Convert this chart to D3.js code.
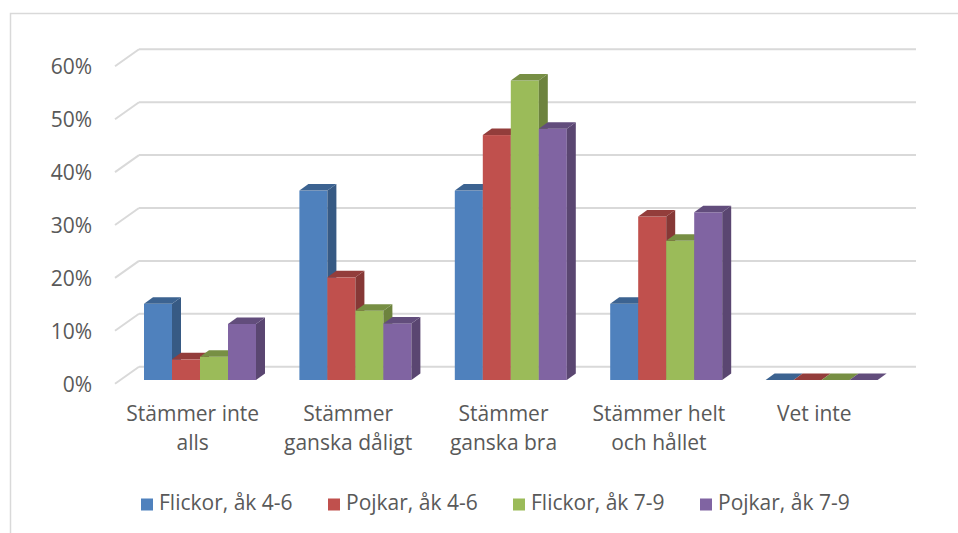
<!DOCTYPE html>
<html>
<head>
<meta charset="utf-8">
<script src="https://cdn.jsdelivr.net/npm/d3@7"></script>
<style>
  body { margin: 0; background: #fff; }
  text { font-family: "Open Sans", "Noto Sans", sans-serif; fill: #595959; }
</style>
</head>
<body>
<div id="chart"></div>
<script>
// chart data
var categories = [
  ["Stämmer inte", "alls"],
  ["Stämmer", "ganska dåligt"],
  ["Stämmer", "ganska bra"],
  ["Stämmer helt", "och hållet"],
  ["Vet inte"]
];
var seriesNames = ["Flickor, åk 4-6", "Pojkar, åk 4-6", "Flickor, åk 7-9", "Pojkar, åk 7-9"];
var seriesColors = ["#4f81bd", "#c0504d", "#9bbb59", "#8064a2"];
var flickor46 = [0.144, 0.358, 0.358, 0.144, 0];
var pojkar46  = [0.039, 0.194, 0.463, 0.309, 0];
var flickor79 = [0.044, 0.131, 0.566, 0.263, 0];
var pojkar79  = [0.106, 0.107, 0.475, 0.317, 0];
var values = [flickor46, pojkar46, flickor79, pojkar79];
var yTicks = [0, 0.1, 0.2, 0.3, 0.4, 0.5, 0.6];

// canvas size
var width = 958, height = 533;

var svg = d3.select('#chart').append('svg')
  .attr('width', width)
  .attr('height', height);

// outer frame
svg.append('rect')
  .attr('x', 10.5).attr('y', 13.5)
  .attr('width', 1000).attr('height', 600)
  .attr('fill', 'none')
  .attr('stroke', '#d9d9d9')
  .attr('stroke-width', 1.5);

// depth of the floor (front -> back) and of the bars
var wallDx = 24, wallDy = 17;
var barDx = 9, barDy = 6.5;

// value scale on the plane of the bar fronts
var y = d3.scaleLinear().domain([0, 0.6]).range([380, 62.6]);
// back wall is a bit higher
var yBack = function(v) { return y(v) - 13.3; };
var yFront = function(v) { return yBack(v) + wallDy; };

// category bands on the front floor edge
var frontLeft = 115, frontRight = 892;
var x0 = d3.scaleBand().domain(d3.range(categories.length)).range([frontLeft, frontRight]);
// bars stand a bit behind the front edge
var barShift = 4.5;
var x1 = d3.scaleBand().domain(d3.range(seriesNames.length)).range([24.5, 136.5]);

// gridlines: back wall + side wall diagonal
var grid = svg.append('g');
yTicks.forEach(function(v) {
  grid.append('line')
    .attr('x1', frontLeft + wallDx).attr('x2', frontRight + wallDx)
    .attr('y1', yBack(v)).attr('y2', yBack(v))
    .attr('stroke', '#d9d9d9').attr('stroke-width', 2);
  grid.append('line')
    .attr('x1', frontLeft).attr('y1', yFront(v))
    .attr('x2', frontLeft + wallDx).attr('y2', yBack(v))
    .attr('stroke', '#d9d9d9').attr('stroke-width', 2);
});

// y tick labels
svg.append('g').selectAll('text').data(yTicks).enter().append('text')
  .attr('x', 92)
  .attr('y', function(d) { return yFront(d) + 2.5; })
  .attr('text-anchor', 'end')
  .attr('dominant-baseline', 'middle')
  .attr('font-size', '21px')
  .text(d3.format('.0%'));

// bars, drawn left to right so the next front face covers the side face
var bars = svg.append('g');
categories.forEach(function(c, ci) {
  values.forEach(function(vals, si) {
    var v = vals[ci];
    var col = d3.color(seriesColors[si]);
    var xl = x0(ci) + barShift + x1(si);
    var xr = xl + x1.bandwidth();
    var yt = y(v), yb = y(0);
    // front
    if (v > 0) {
      bars.append('rect')
        .attr('x', xl).attr('y', yt)
        .attr('width', x1.bandwidth()).attr('height', yb - yt)
        .attr('fill', col.formatHex());
    }
    // side
    bars.append('path')
      .attr('d', 'M' + xr + ',' + yb + 'L' + xr + ',' + yt +
                 'L' + (xr + barDx) + ',' + (yt - barDy) +
                 'L' + (xr + barDx) + ',' + (yb - barDy) + 'Z')
      .attr('fill', col.darker(1.0).formatHex());
    // top
    bars.append('path')
      .attr('d', 'M' + xl + ',' + yt + 'L' + xr + ',' + yt +
                 'L' + (xr + barDx) + ',' + (yt - barDy) +
                 'L' + (xl + barDx) + ',' + (yt - barDy) + 'Z')
      .attr('fill', col.darker(0.75).formatHex());
  });
});

// category labels
var catLabels = svg.append('g');
categories.forEach(function(lines, ci) {
  var t = catLabels.append('text')
    .attr('x', x0(ci) + x0.bandwidth() / 2)
    .attr('y', 421)
    .attr('text-anchor', 'middle')
    .attr('font-size', '21px');
  lines.forEach(function(l, li) {
    t.append('tspan')
      .attr('x', x0(ci) + x0.bandwidth() / 2)
      .attr('dy', li === 0 ? 0 : 29)
      .text(l);
  });
});

// legend
var legendX = [141, 328, 513, 700];
var legend = svg.append('g').selectAll('g').data(seriesNames).enter().append('g')
  .attr('transform', function(d, i) { return 'translate(' + legendX[i] + ',504)'; });
legend.append('rect')
  .attr('x', 0).attr('y', -5.5).attr('width', 12).attr('height', 12)
  .attr('fill', function(d, i) { return seriesColors[i]; });
legend.append('text')
  .attr('x', 18).attr('y', 0)
  .attr('dominant-baseline', 'middle')
  .attr('font-size', '21px')
  .text(function(d) { return d; });
</script>
</body>
</html>
